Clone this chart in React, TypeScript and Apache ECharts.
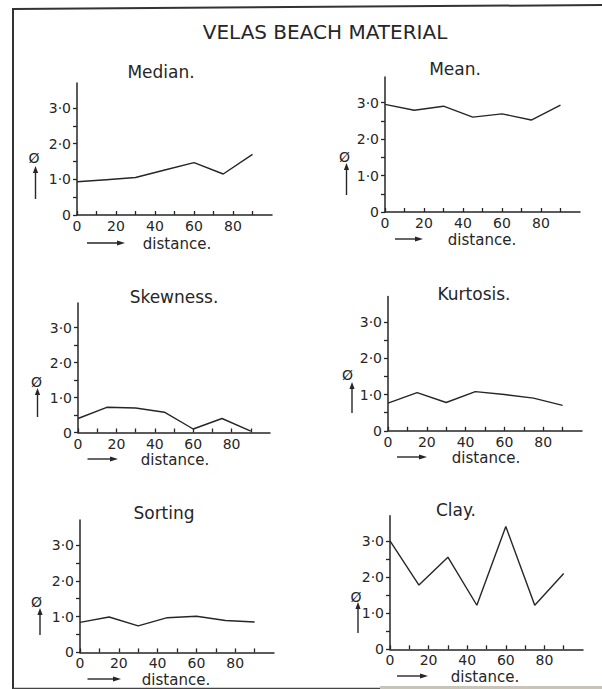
import React, { useEffect, useRef } from "react";
import * as echarts from "echarts";

// ---- data ----
const distance = [0, 15, 30, 45, 60, 75, 90];
const median = [0.93, 0.99, 1.05, 1.26, 1.47, 1.15, 1.7];
const mean = [2.95, 2.79, 2.9, 2.6, 2.69, 2.52, 2.93];
const skewness = [0.4, 0.72, 0.7, 0.58, 0.1, 0.4, 0.04];
const kurtosis = [0.76, 1.05, 0.78, 1.08, 1.0, 0.9, 0.7];
const sorting = [0.84, 0.99, 0.74, 0.97, 1.01, 0.89, 0.85];
const clay = [3.0, 1.78, 2.55, 1.22, 3.4, 1.22, 2.1];

const panelTitles = ["Median.", "Mean.", "Skewness.", "Kurtosis.", "Sorting", "Clay."];
const panelValues = [median, mean, skewness, kurtosis, sorting, clay];

const xTickValues = [0, 10, 20, 30, 40, 50, 60, 70, 80, 90];
const xLabelValues = [0, 20, 40, 60, 80];
const yTickValues = [0, 0.5, 1, 1.5, 2, 2.5, 3];
const yLabelValues = [0, 1, 2, 3];

const mainTitle = "VELAS BEACH MATERIAL";
const yName = "Ø";
const xName = "distance.";

// ---- layout (pixels) ----
const layout = [
  { grid: { left: 77, top: 83, width: 195, height: 132 }, title: [161, 72], phi: [34, 158], up: [35.5, 166, 199], dist: [87, 125, 177, 244] },
  { grid: { left: 385, top: 77, width: 195, height: 135 }, title: [455, 69], phi: [344.5, 157], up: [346.5, 163, 195], dist: [395, 423, 482, 240] },
  { grid: { left: 78, top: 303, width: 192, height: 129.5 }, title: [174, 297], phi: [36.5, 382], up: [37.5, 388, 417], dist: [87.5, 118, 175, 460] },
  { grid: { left: 388, top: 296.5, width: 194, height: 134.3 }, title: [474, 293.5], phi: [347.5, 375], up: [352, 382, 413], dist: [397, 427, 486, 458] },
  { grid: { left: 80, top: 520, width: 194, height: 132.4 }, title: [164, 513], phi: [36.5, 602], up: [40, 608, 635], dist: [87.5, 121, 176, 680] },
  { grid: { left: 390, top: 515.7, width: 193, height: 133.6 }, title: [456, 510], phi: [356, 597], up: [358, 602, 633], dist: [397, 428, 485, 677] },
];

const INK = "#262626";
const FONT = "DejaVu Sans";

const fmtY = (v: number) => (v === 0 ? "0" : v.toFixed(1).replace(".", "·"));

function buildOption() {
  const grids: any[] = [];
  const xAxes: any[] = [];
  const yAxes: any[] = [];
  const series: any[] = [];
  const graphics: any[] = [];

  // frame
  graphics.push(
    { type: "line", shape: { x1: 13, y1: 9, x2: 602, y2: 5 }, style: { stroke: "#333", lineWidth: 2 } },
    { type: "line", shape: { x1: 13, y1: 8, x2: 13, y2: 689 }, style: { stroke: "#333", lineWidth: 2 } },
    { type: "line", shape: { x1: 13, y1: 688.5, x2: 380, y2: 688.5 }, style: { stroke: "#444", lineWidth: 1.5 } },
    { type: "line", shape: { x1: 380, y1: 687.5, x2: 602, y2: 687.5 }, style: { stroke: "#c8c4b8", lineWidth: 3 } },
    {
      type: "text",
      x: 325,
      y: 32,
      style: { text: mainTitle, fontSize: 20, fontFamily: FONT, fill: INK, align: "center", verticalAlign: "middle" },
    }
  );

  layout.forEach((p, i) => {
    grids.push({ ...p.grid, outerBoundsMode: "none", containLabel: false });
    xAxes.push({
      type: "value",
      gridIndex: i,
      min: 0,
      max: 100,
      interval: 10,
      axisLine: { show: true, onZero: false, lineStyle: { color: INK, width: 1.5 } },
      axisTick: { show: true, inside: true, length: 4, customValues: xTickValues, lineStyle: { color: INK, width: 1.3 } },
      axisLabel: { show: true, customValues: xLabelValues, margin: 4, fontSize: 14, fontFamily: FONT, color: INK },
      splitLine: { show: false },
    });
    yAxes.push({
      type: "value",
      gridIndex: i,
      min: 0,
      max: 3.7,
      interval: 0.5,
      axisLine: { show: true, onZero: false, lineStyle: { color: INK, width: 1.5 } },
      axisTick: { show: true, inside: false, length: 4, customValues: yTickValues, lineStyle: { color: INK, width: 1.3 } },
      axisLabel: { show: true, customValues: yLabelValues, formatter: fmtY, margin: 6, fontSize: 14, fontFamily: FONT, color: INK },
      splitLine: { show: false },
    });
    series.push({
      type: "line",
      xAxisIndex: i,
      yAxisIndex: i,
      data: distance.map((d, j) => [d, panelValues[i][j]]),
      symbol: "none",
      silent: true,
      lineStyle: { color: INK, width: 1.4 },
    });

    // panel title
    graphics.push({
      type: "text",
      x: p.title[0],
      y: p.title[1],
      style: { text: panelTitles[i], fontSize: 17, fontFamily: FONT, fill: INK, align: "center", verticalAlign: "middle" },
    });
    // phi symbol
    graphics.push({
      type: "text",
      x: p.phi[0],
      y: p.phi[1],
      style: { text: yName, fontSize: 14, fontFamily: FONT, fill: INK, align: "center", verticalAlign: "middle" },
    });
    // up arrow
    const [ux, uTop, uBot] = p.up;
    graphics.push(
      { type: "line", shape: { x1: ux, y1: uBot, x2: ux, y2: uTop + 4 }, style: { stroke: INK, lineWidth: 1.4 } },
      { type: "polygon", shape: { points: [[ux - 2.6, uTop + 7], [ux, uTop], [ux + 2.6, uTop + 7]] }, style: { fill: INK } }
    );
    // right arrow + "distance."
    const [ax1, ax2, tx, ty] = p.dist;
    graphics.push(
      { type: "line", shape: { x1: ax1, y1: ty - 1, x2: ax2 - 4, y2: ty - 1 }, style: { stroke: INK, lineWidth: 1.4 } },
      { type: "polygon", shape: { points: [[ax2 - 8, ty - 3.6], [ax2, ty - 1], [ax2 - 8, ty + 1.6]] }, style: { fill: INK } },
      {
        type: "text",
        x: tx,
        y: ty,
        style: { text: xName, fontSize: 15, fontFamily: FONT, fill: INK, align: "center", verticalAlign: "middle" },
      }
    );
  });

  return {
    animation: false,
    backgroundColor: "#ffffff",
    grid: grids,
    xAxis: xAxes,
    yAxis: yAxes,
    series,
    graphic: graphics,
  };
}

export default function App() {
  const ref = useRef<HTMLDivElement>(null);
  useEffect(() => {
    if (!ref.current) return;
    const chart = echarts.init(ref.current, undefined, { renderer: "svg" });
    chart.setOption(buildOption() as any);
    return () => chart.dispose();
  }, []);
  return (
    <div
      ref={ref}
      style={{ position: "fixed", left: 0, top: 0, width: 602, height: 689, background: "#fff" }}
    />
  );
}
